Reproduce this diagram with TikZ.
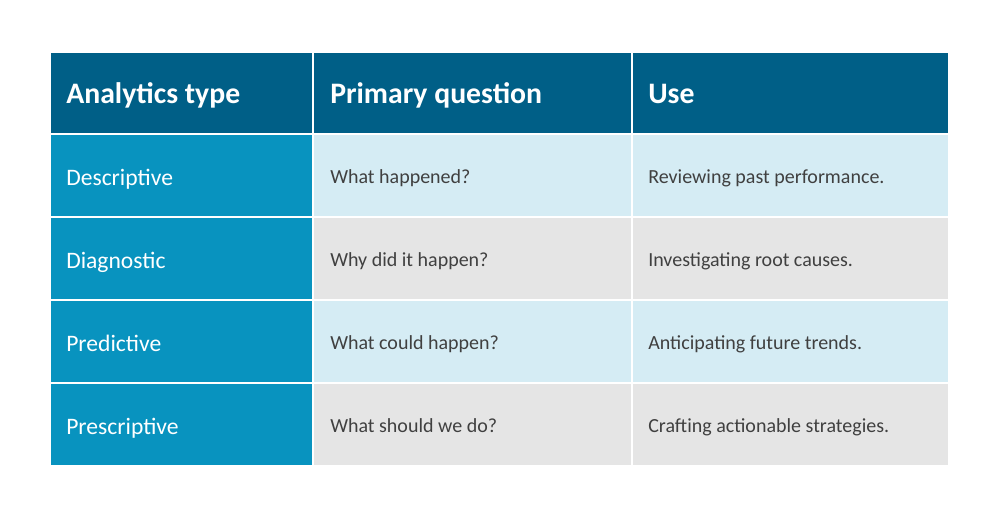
\documentclass[tikz,border=0pt]{standalone}
\usepackage{fontspec}
\setmainfont{Carlito}
\definecolor{hdr}{HTML}{005F87}
\definecolor{firstcol}{HTML}{0893BF}
\definecolor{lblue}{HTML}{D5ECF4}
\definecolor{lgray}{HTML}{E5E5E5}
\definecolor{txt}{HTML}{404040}
\begin{document}
\begin{tikzpicture}[x=0.75pt,y=-0.75pt,
  cell/.style={draw=white,line width=1.5pt},
  htext/.style={anchor=base west,text=white,font=\fontsize{22.3}{26}\selectfont\bfseries,inner sep=0pt},
  ftext/.style={anchor=base west,text=white,font=\fontsize{17.7}{20}\selectfont,inner sep=0pt},
  btext/.style={anchor=base west,text=txt,font=\fontsize{15}{18}\selectfont,inner sep=0pt}]
\useasboundingbox[fill=white] (0,0) rectangle (1000,507);
% header
\path[cell,fill=hdr] (50,52) rectangle (313,134);
\path[cell,fill=hdr] (313,52) rectangle (632,134);
\path[cell,fill=hdr] (632,52) rectangle (949,134);
\node[htext] (h1) at (66,103) {Analytics type};
\node[htext] (h2) at (330,103) {Primary question};
\node[htext] (h3) at (648,103) {Use};
% rows
\foreach \i/\top/\col/\a/\b/\c in {
  1/134/lblue/Descriptive/What happened?/Reviewing past performance.,
  2/217/lgray/Diagnostic/Why did it happen?/Investigating root causes.,
  3/300/lblue/Predictive/What could happen?/Anticipating future trends.,
  4/383/lgray/Prescriptive/What should we do?/Crafting actionable strategies.}{
  \path[cell,fill=firstcol] (50,\top) rectangle (313,\top+83);
  \path[cell,fill=\col] (313,\top) rectangle (632,\top+83);
  \path[cell,fill=\col] (632,\top) rectangle (949,\top+83);
  \node[ftext] (r\i a) at (66,\top+51) {\a};
  \node[btext] (r\i b) at (330,\top+49) {\b};
  \node[btext] (r\i c) at (648,\top+49) {\c};
}
\end{tikzpicture}
\end{document}
